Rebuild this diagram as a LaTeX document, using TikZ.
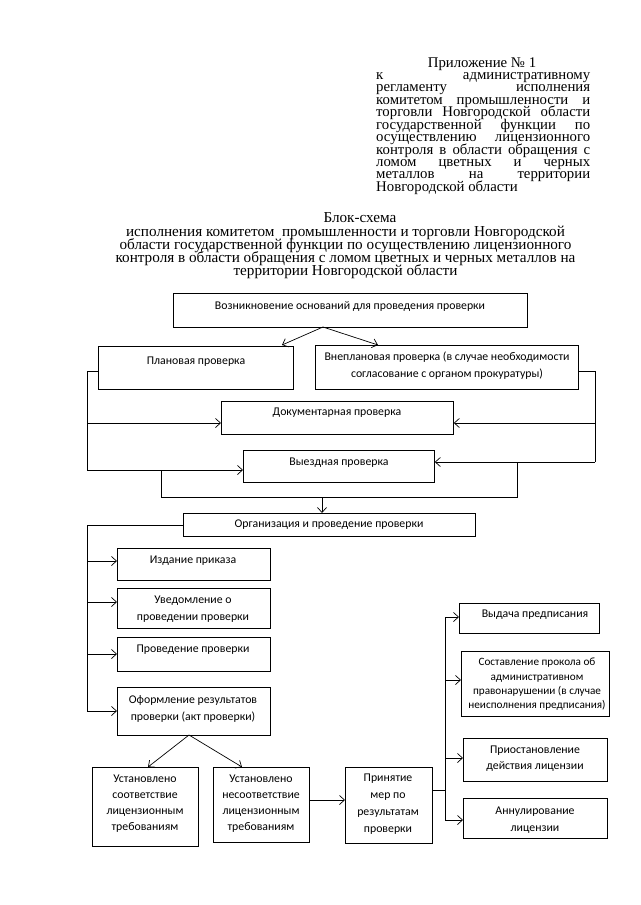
\documentclass[tikz,border=0pt]{standalone}
\usepackage{fontspec}
\setmainfont{Liberation Serif}
\newfontfamily\boxfont{Carlito}
\usetikzlibrary{arrows.meta,calc}
\begin{document}
\begin{tikzpicture}[x=1pt,y=-1pt,
  box/.style={draw, line width=0.8pt, anchor=north west, inner sep=0pt},
  txt/.style={font=\boxfont\fontsize{11.8}{16.8}\selectfont, align=center, inner sep=0pt},
  hdr/.style={font=\fontsize{14.8}{12.5}\selectfont, inner sep=0pt, text height=8.5pt, text depth=2.5pt},
  ttl/.style={font=\fontsize{15.2}{13}\selectfont, inner sep=0pt, text height=8.8pt, text depth=2.6pt},
  arr/.style={line width=0.7pt, -{Straight Barb[length=5pt,width=9pt]}},
  ln/.style={line width=0.7pt}]
\useasboundingbox[fill=white] (0,0) rectangle (640,905);

% ---------- header ----------
\node[hdr, anchor=base] (appx) at (482,67) {Приложение № 1};
\foreach \t [count=\i] in {{к\hfill административному},
  {регламенту\hfill исполнения},
  {комитетом\hfill промышленности\hfill и},
  {торговли\hfill Новгородской\hfill области},
  {государственной\hfill функции\hfill по},
  {осуществлению\hfill лицензионного},
  {контроля\hfill в\hfill области\hfill обращения\hfill с},
  {ломом\hfill цветных\hfill и\hfill черных},
  {металлов\hfill на\hfill территории},
  {Новгородской области\hfill}}
  \node[hdr, anchor=base west] (h\i) at (376,66.85+12.45*\i) {\hbox to 214pt{\t}};

\node[ttl, anchor=base] (ttl0) at (360,222.5) {Блок-схема};
\foreach \t [count=\i] in {{исполнения комитетом\ \ промышленности и торговли Новгородской},
  {области государственной функции по осуществлению лицензионного},
  {контроля в области обращения с ломом цветных и черных металлов на},
  {территории Новгородской области}}
  \node[ttl, anchor=base] (ttl\i) at (345.5,223.5+13*\i) {\t};

% ---------- boxes ----------
\node[box, minimum width=354, minimum height=34] (top) at (173,293) {};
\node[txt] (top-t) at (350,306) {Возникновение оснований для проведения проверки};

\node[box, minimum width=195, minimum height=43] (plan) at (98,346) {};
\node[txt] (plan-t) at (196,362) {Плановая проверка};

\node[box, minimum width=263, minimum height=44] (vnepl) at (315,345) {};
\node[txt] (vnepl-t) at (447,365.5) {Внеплановая проверка (в случае необходимости\\согласование с органом прокуратуры)};

\node[box, minimum width=232, minimum height=33] (doc) at (221,401) {};
\node[txt] (doc-t) at (337,413) {Документарная проверка};

\node[box, minimum width=191, minimum height=32] (vyezd) at (243,450) {};
\node[txt] (vyezd-t) at (339,463) {Выездная проверка};

\node[box, minimum width=292, minimum height=23] (org) at (183,513) {};
\node[txt] (org-t) at (329,525) {Организация и проведение проверки};

\node[box, minimum width=153, minimum height=32] (izd) at (117,548) {};
\node[txt] (izd-t) at (193,561) {Издание приказа};

\node[box, minimum width=153, minimum height=40] (uved) at (117,588) {};
\node[txt] (uved-t) at (193,609.5) {Уведомление о\\проведении проверки};

\node[box, minimum width=153, minimum height=34] (prov) at (117,637) {};
\node[txt] (prov-t) at (193,650) {Проведение проверки};

\node[box, minimum width=153, minimum height=48] (oform) at (117,687) {};
\node[txt] (oform-t) at (193,708.7) {Оформление результатов\\проверки (акт проверки)};

\node[box, minimum width=106, minimum height=79] (sootv) at (92,767) {};
\node[txt, font=\boxfont\fontsize{11.8}{16.1}\selectfont] (sootv-t) at (145,804) {Установлено\\соответствие\\лицензионным\\требованиям};

\node[box, minimum width=96, minimum height=75] (nesootv) at (213,767) {};
\node[txt, font=\boxfont\fontsize{11.8}{16.1}\selectfont] (nesootv-t) at (261,804) {Установлено\\несоответствие\\лицензионным\\требованиям};

\node[box, minimum width=87, minimum height=76] (prin) at (345,767) {};
\node[txt] (prin-t) at (388,804) {Принятие\\мер по\\результатам\\проверки};

\node[box, minimum width=140, minimum height=30] (vyd) at (459,603) {};
\node[txt] (vyd-t) at (535,615) {Выдача предписания};

\node[box, minimum width=148, minimum height=65] (sost) at (461,651) {};
\node[txt, font=\boxfont\fontsize{11.2}{14.4}\selectfont] (sost-t) at (537,684.3) {Составление прокола об\\административном\\правонарушении (в случае\\неисполнения предписания)};

\node[box, minimum width=144, minimum height=43] (prio) at (463,738) {};
\node[txt] (prio-t) at (535,758.7) {Приостановление\\действия лицензии};

\node[box, minimum width=144, minimum height=40] (annul) at (463,798) {};
\node[txt] (annul-t) at (535,820) {Аннулирование\\лицензии};

% ---------- connectors ----------
\coordinate (apx1) at (323,327);
\coordinate (apx1L) at (282,345);
\coordinate (apx1R) at (378,345);
\draw[arr] (apx1) -- (apx1L);
\draw[arr] (apx1) -- (apx1R);

\coordinate (lA) at (87,371);
\coordinate (lB) at (87,423);
\coordinate (lC) at (87,470);
\draw[ln] (plan.west |- lA) -- (lA) -- (lC);
\draw[arr] (lB) -- (doc.west |- lB);
\draw[arr] (lC) -- (vyezd.west |- lC);

\coordinate (rA) at (595,371);
\coordinate (rB) at (595,423);
\coordinate (rC) at (595,462);
\draw[ln] (vnepl.east |- rA) -- (rA) -- (rC);
\draw[arr] (rB) -- (doc.east |- rB);
\draw[arr] (rC) -- (vyezd.east |- rC);

\coordinate (mL) at (161,470);
\coordinate (mBL) at (161,497);
\coordinate (mBR) at (517,497);
\coordinate (mR) at (517,462);
\coordinate (mC) at (322,497);
\draw[ln] (mL) -- (mBL) -- (mBR) -- (mR);
\draw[arr] (mC) -- (mC |- org.north);

\coordinate (kA) at (87,525);
\coordinate (kB) at (87,561);
\coordinate (kC) at (87,602);
\coordinate (kD) at (87,654);
\coordinate (kE) at (87,711);
\draw[ln] (org.west |- kA) -- (kA) -- (kE);
\draw[arr] (kB) -- (izd.west |- kB);
\draw[arr] (kC) -- (uved.west |- kC);
\draw[arr] (kD) -- (prov.west |- kD);
\draw[arr] (kE) -- (oform.west |- kE);

\coordinate (apx2) at (189,735);
\coordinate (apx2L) at (148,767);
\coordinate (apx2R) at (242,767);
\draw[arr] (apx2) -- (apx2L);
\draw[arr] (apx2) -- (apx2R);

\coordinate (nA) at (309,800);
\draw[arr] (nesootv.east |- nA) -- (prin.west |- nA);

\coordinate (pA) at (445,790);
\coordinate (pT) at (445,617);
\coordinate (pB) at (445,680);
\coordinate (pC) at (445,758);
\coordinate (pD) at (445,820);
\draw[ln] (prin.east |- pA) -- (pA);
\draw[ln] (pT) -- (pD);
\draw[arr] (pT) -- (vyd.west |- pT);
\draw[arr] (pB) -- (sost.west |- pB);
\draw[arr] (pC) -- (prio.west |- pC);
\draw[arr] (pD) -- (annul.west |- pD);
\end{tikzpicture}
\end{document}
